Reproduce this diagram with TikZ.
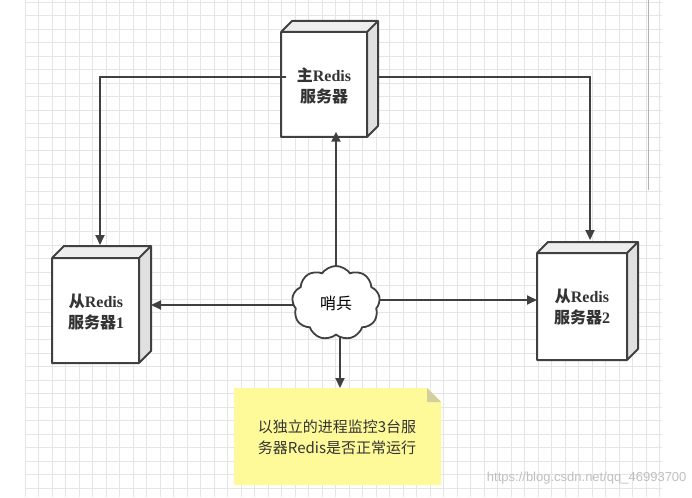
\documentclass[tikz,border=0pt]{standalone}
\usepackage{fontspec}
\setmainfont{Liberation Serif}
\newfontfamily\cjk{Noto Sans CJK SC}
\newfontfamily\lab{Liberation Sans}
\usetikzlibrary{shapes.symbols,shapes.misc,arrows.meta}
\begin{document}
\begin{tikzpicture}[x=1pt,y=-1pt,
  conn/.style={draw=black!75,line width=1.8pt,-{Triangle[length=10pt,width=9pt]}},
  boxtxt/.style={font=\bfseries\fontsize{16}{21}\selectfont,align=center,text=black!80}]
\useasboundingbox (0,0) rectangle (692,497);
\fill[white] (0,0) rectangle (692,497);
\foreach \i in {0,...,47} {\draw[black!10,line width=0.6pt] (25+13.5*\i,0) -- (25+13.5*\i,497);}
\foreach \i in {0,...,37} {\draw[black!10,line width=0.6pt] (25,2+13.5*\i) -- (662,2+13.5*\i);}
\draw[black!30] (648,0) -- (648,190);
% 3D boxes
\newcommand\rbox[6]{% name, x1,y1,x2,y2, d
  \fill[white] (#2,#3) rectangle (#4,#5);
  \fill[black!12] (#4,#3) -- (#4+#6,#3-#6) -- (#4+#6,#5-#6) -- (#4,#5) -- cycle;
  \fill[black!7] (#2,#3) -- (#2+#6,#3-#6) -- (#4+#6,#3-#6) -- (#4,#3) -- cycle;
  \draw[black!75,line width=2pt,line join=round] (#2,#3) rectangle (#4,#5)
    (#2,#3) -- (#2+#6,#3-#6) -- (#4+#6,#3-#6) -- (#4+#6,#5-#6) -- (#4,#5) (#4,#3) -- (#4+#6,#3-#6);
  \node[inner sep=0,minimum width=#4-#2,minimum height=#5-#3] (#1) at ({(#2+#4)/2+#6/2},{(#3+#5)/2-#6/2}) {};
}
\rbox{m}{281}{32}{367}{137}{11}
\rbox{s1}{52}{258}{139}{363}{12}
\rbox{s2}{537}{253}{627}{360}{11}
\node[boxtxt] at (324,86) {{\cjk\bfseries 主}Redis\\{\cjk\bfseries 服务器}};
\node[boxtxt] at (96,312) {{\cjk\bfseries 从}Redis\\{\cjk\bfseries 服务器}1};
\node[boxtxt] at (582,307) {{\cjk\bfseries 从}Redis\\{\cjk\bfseries 服务器}2};
% cloud
\node[cloud,cloud puffs=9,cloud puff arc=110,aspect=1.2,draw=black!75,line width=1.8pt,fill=white,
  minimum width=88pt,minimum height=74pt,font=\cjk\fontsize{16}{18}\selectfont] (c) at (336,303) {哨兵};
% note
\fill[yellow!40!white] (234,388) -- (427,388) -- (441,402) -- (441,485) -- (234,485) -- cycle;
\fill[yellow!55!black!45] (427,388) -- (441,402) -- (427,402) -- cycle;
\node[font=\cjk\fontsize{15}{21}\selectfont,align=center,text=black!80] (n) at (337,437) {以独立的进程监控3台服\\务器Redis是否正常运行};
\coordinate (ntop) at (340,388);
\coordinate (cl) at (293,305);
\coordinate (cr) at (379,300);
% connectors
\draw[conn] (c.north) -- (m.south -| c.north);
\draw[conn] (m.west |- 0,77) -| (100,245);
\draw[conn] (367+11,77) -| (590,240);
\draw[conn] (cl) -- (151,305);
\draw[conn] (cr) -- (537,300);
\draw[conn] (c.south -| ntop) -- (ntop);
\node[font=\lab\fontsize{13}{15}\selectfont,text=black!25,anchor=east] at (690,478) {https://blog.csdn.net/qq\_46993700};
\end{tikzpicture}
\end{document}
